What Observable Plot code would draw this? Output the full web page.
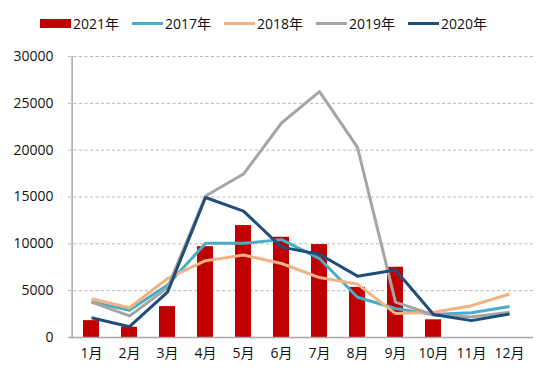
<!DOCTYPE html>
<html>
<head>
<meta charset="utf-8">
<script src="https://cdn.jsdelivr.net/npm/d3@7"></script>
<script src="https://cdn.jsdelivr.net/npm/@observablehq/plot@0.6"></script>
<style>
  body { margin: 0; background: #fff; font-family: "Open Sans", "Noto Sans CJK SC", sans-serif; }
  #legend { position: relative; height: 40px; width: 550px; font-size: 14px; color: #111; }
  .item { position: absolute; top: 13px; display: flex; align-items: center; height: 20px; }
  .sw { display: inline-block; width: 31px; margin-right: 2px; }
</style>
</head>
<body>
<div id="legend"></div>
<div id="chart"></div>
<script>
const months = ["1月","2月","3月","4月","5月","6月","7月","8月","9月","10月","11月","12月"];
const series = ["2021年","2017年","2018年","2019年","2020年"];
const colors = ["#C00000","#4BACC6","#F4B183","#A5A5A5","#1F4E79"];
const v2021 = [1800, 1100, 3300, 9700, 11950, 10700, 9920, 5350, 7500, 1890, null, null];
const v2017 = [3800, 2900, 5600, 10050, 10050, 10450, 8430, 4300, 3100, 2450, 2650, 3300];
const v2018 = [4130, 3170, 6300, 8200, 8800, 7900, 6400, 5700, 2550, 2700, 3400, 4650];
const v2019 = [3770, 2300, 5300, 15100, 17450, 22900, 26250, 20300, 3770, 2400, 2200, 2700];
const v2020 = [2100, 1150, 4840, 14950, 13500, 9650, 8880, 6550, 7200, 2450, 1800, 2500];
const yTicks = [0, 5000, 10000, 15000, 20000, 25000, 30000];

const bars = months.map((m, i) => ({month: m, value: v2021[i]})).filter(d => d.value != null);
const lineSeries = [["2017年", v2017], ["2018年", v2018], ["2019年", v2019], ["2020年", v2020]];
const lines = lineSeries.flatMap(([s, vals]) => months.map((m, i) => ({series: s, month: m, value: vals[i]})));

// legend
const legend = document.getElementById("legend");
const lefts = [40, 132, 224, 316, 408];
series.forEach((s, i) => {
  const it = document.createElement("div");
  it.className = "item";
  it.style.left = lefts[i] + "px";
  const sw = document.createElement("span");
  sw.className = "sw";
  sw.style.height = i === 0 ? "9px" : "3px";
  sw.style.background = colors[i];
  it.appendChild(sw);
  const t = document.createElement("span");
  t.textContent = s;
  it.appendChild(t);
  legend.appendChild(it);
});

const step = 465 / 12;
const chart = Plot.plot({
  width: 550,
  height: 343,
  marginTop: 16,
  marginBottom: 46,
  marginLeft: 68,
  marginRight: 17,
  style: {fontFamily: "'Open Sans', 'Noto Sans CJK SC', sans-serif", fontSize: "14px", color: "#111", background: "#fff"},
  x: {domain: months, paddingInner: 0.57, paddingOuter: 0.285, label: null, tickSize: 0, tickPadding: 11},
  y: {domain: [0, 30000], ticks: yTicks, tickFormat: d => String(d), label: null, tickSize: 0, tickPadding: 15},
  color: {domain: series, range: colors},
  marks: [
    Plot.ruleY(yTicks.filter(d => d > 0), {stroke: "#b5b5b5", strokeDasharray: "3,2.5", strokeWidth: 1}),
    Plot.barY(bars, {x: "month", y: "value", fill: colors[0]}),
    Plot.line(lines, {x: "month", y: "value", z: "series", stroke: "series", strokeWidth: 3, strokeLinejoin: "round", strokeLinecap: "butt"}),
    Plot.ruleY([0], {stroke: "#a6a6a6", strokeWidth: 1.5}),
    Plot.ruleX(["1月"], {dx: -step / 2, y1: 0, y2: 30000, stroke: "#a6a6a6", strokeWidth: 1.5})
  ]
});
document.getElementById("chart").appendChild(chart);
</script>
</body>
</html>
